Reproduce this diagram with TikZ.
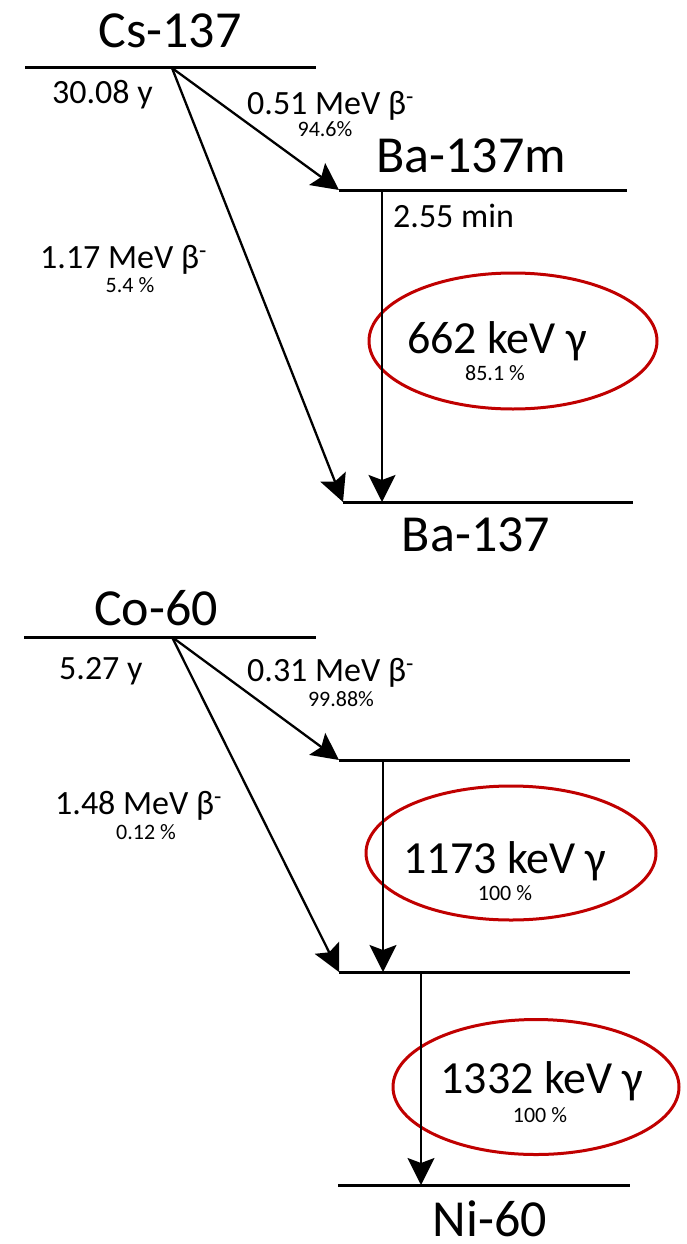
\documentclass[tikz,border=0pt]{standalone}
\usepackage{fontspec}
\setmainfont{Carlito}
\usetikzlibrary{arrows.meta,shapes.geometric}
\definecolor{ellred}{RGB}{192,0,0}
\begin{document}
\begin{tikzpicture}[x=1pt,y=-1pt,
  lvl/.style={line width=3pt},
  tr/.style={line width=2.3pt,-{Stealth[length=27pt,width=27pt,inset=5pt]}},
  big/.style={inner sep=0pt,anchor=base,font=\fontsize{52}{52}\selectfont},
  lab/.style={inner sep=0pt,anchor=base west,font=\fontsize{34}{34}\selectfont},
  pct/.style={inner sep=0pt,anchor=base,font=\fontsize{22}{22}\selectfont},
  gam/.style={inner sep=0pt,anchor=base,font=\fontsize{46}{46}\selectfont},
  ell/.style={draw=ellred,line width=3pt,ellipse,minimum width=288pt,minimum height=136pt,inner sep=0pt}
]
\useasboundingbox (0,0) rectangle (687,1244);

% ---------- Cs-137 ----------
\coordinate (csL) at (25,68);
\coordinate (csR) at (316,68);
\coordinate (csS) at (172,68);
\coordinate (bamL) at (339,190);
\coordinate (bamR) at (627,190);
\coordinate (bamS) at (382,190);
\coordinate (baL) at (343,502);
\coordinate (baR) at (633,502);
\coordinate (baT) at (382,502);

\draw[lvl] (csL) -- (csR);
\draw[lvl] (bamL) -- (bamR);
\draw[lvl] (baL) -- (baR);

\node[ell] (e662) at (513,341) {};

\draw[tr] (csS) -- (bamL);
\draw[tr] (csS) -- (baL);
\draw[tr] (bamS) -- (baT);

\node[big] (tcs) at (170,48) {Cs-137};
\node[lab] (tcshl) at (52,103) {30.08 y};
\node[lab] (tb051) at (247,114) {0.51 MeV β\textsuperscript{-}};
\node[pct] (tp946) at (325,136) {94.6\%};
\node[big,anchor=base west] (tbam) at (376,172) {Ba-137m};
\node[lab] (tbamhl) at (393,227) {2.55 min};
\node[lab] (tb117) at (40,268) {1.17 MeV β\textsuperscript{-}};
\node[pct] (tp54) at (130,292) {5.4 \%};
\node[gam] (tg662) at (497,353) {662 keV γ};
\node[pct] (tp851) at (495,380) {85.1 \%};
\node[big] (tba) at (476,551) {Ba-137};

% ---------- Co-60 ----------
\coordinate (coL) at (24,637);
\coordinate (coR) at (316,637);
\coordinate (coS) at (172,637);
\coordinate (n1L) at (339,760);
\coordinate (n1R) at (630,760);
\coordinate (n1S) at (383,760);
\coordinate (n2L) at (339,972);
\coordinate (n2R) at (630,972);
\coordinate (n2T) at (383,972);
\coordinate (n2S) at (421,972);
\coordinate (niL) at (338,1185);
\coordinate (niR) at (630,1185);
\coordinate (niT) at (421,1185);

\draw[lvl] (coL) -- (coR);
\draw[lvl] (n1L) -- (n1R);
\draw[lvl] (n2L) -- (n2R);
\draw[lvl] (niL) -- (niR);

\node[ell,minimum width=290pt,minimum height=134pt] (e1173) at (511,853) {};
\node[ell,minimum width=286pt,minimum height=135pt] (e1332) at (536,1087) {};

\draw[tr] (coS) -- (n1L);
\draw[tr] (coS) -- (n2L);
\draw[tr] (n1S) -- (n2T);
\draw[tr] (n2S) -- (niT);

\node[big] (tco) at (156,625) {Co-60};
\node[lab] (tcohl) at (59,679) {5.27 y};
\node[lab] (tb031) at (247,681) {0.31 MeV β\textsuperscript{-}};
\node[pct] (tp9988) at (341,706) {99.88\%};
\node[lab] (tb148) at (55,814) {1.48 MeV β\textsuperscript{-}};
\node[pct] (tp012) at (146,839) {0.12 \%};
\node[gam] (tg1173) at (505,873) {1173 keV γ};
\node[pct] (tp100a) at (505,900) {100 \%};
\node[gam] (tg1332) at (542,1093) {1332 keV γ};
\node[pct] (tp100b) at (540,1122) {100 \%};
\node[big] (tni) at (490,1236) {Ni-60};
\end{tikzpicture}
\end{document}
